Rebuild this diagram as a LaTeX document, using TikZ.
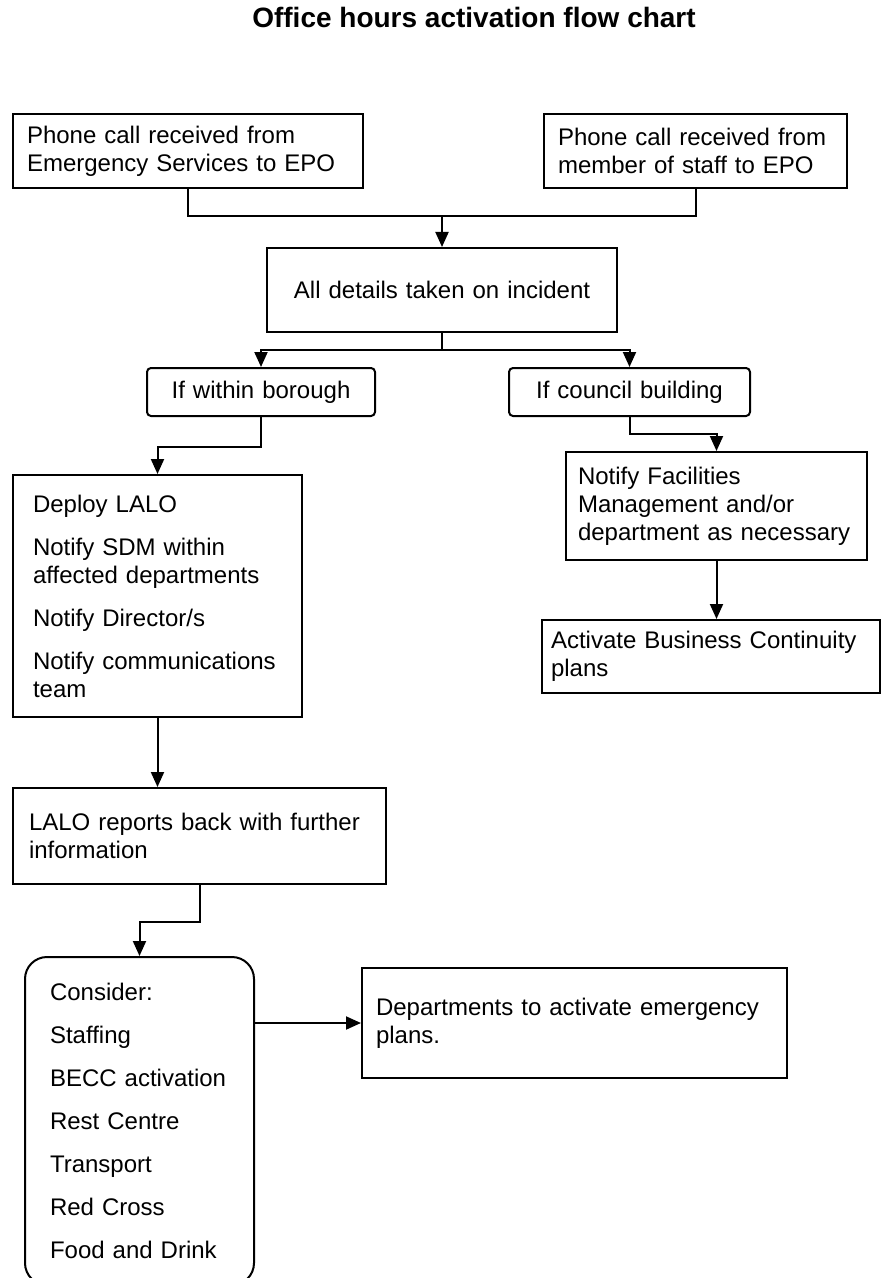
\documentclass[tikz,border=0pt]{standalone}
\usepackage{fontspec}
\setmainfont{Liberation Sans}
\usetikzlibrary{arrows.meta}
\hyphenpenalty=10000
\exhyphenpenalty=10000

\tikzset{
  box/.style = {draw, line width=1pt, anchor=north west, align=left,
    font=\fontsize{12}{14}\selectfont},
  flow/.style = {line width=1pt, -{Triangle[length=7.5pt,width=6.5pt]}},
}

\begin{document}
\begin{tikzpicture}[x=.5pt, y=-.5pt]
  \useasboundingbox (0,0) rectangle (880,1278);
  \node [anchor=base, font=\fontsize{14}{16}\bfseries\selectfont] (title) at (474,28) {Office hours activation flow chart};

  % top row
  \node [box, text width=161pt, inner xsep=7pt, minimum height=37pt] (callES) at (12,113)
    {Phone call received from\\Emergency Services to EPO};
  \node [box, text width=137.5pt, inner xsep=7pt, minimum height=37pt] (callStaff) at (543,113)
    {Phone call received from\\member of staff to EPO};
  \node [box, align=center, text width=161pt, inner xsep=7pt, minimum height=42pt] (details) at (266,247)
    {All details taken on incident};
  \node [box, align=center, rounded corners=2pt, text width=100pt, inner xsep=7pt, minimum height=24pt] (borough) at (146,367)
    {If within borough};
  \node [box, align=center, rounded corners=2pt, text width=106.5pt, inner xsep=7pt, minimum height=24pt] (council) at (508,367)
    {If council building};

  % left branch
  \node [box, text width=124.5pt, inner xsep=10pt, minimum height=121pt] (deploy) at (12,474)
    {Deploy LALO\\[7.5pt]Notify SDM within\\affected departments\\[7.5pt]Notify Director/s\\[7.5pt]Notify communications\\team};
  \node [box, text width=170.5pt, inner xsep=8pt, minimum height=48pt] (reports) at (12,787)
    {LALO reports back with further\\information};
  \node [box, rounded corners=11pt, text width=89.5pt, inner xsep=12.5pt, minimum height=164pt] (consider) at (24,956)
    {Consider:\\[7.5pt]Staffing\\[7.5pt]BECC activation\\[7.5pt]Rest Centre\\[7.5pt]Transport\\[7.5pt]Red Cross\\[7.5pt]Food and Drink};
  \node [box, text width=198.5pt, inner xsep=7pt, minimum height=55pt] (plans) at (361,967)
    {Departments to activate emergency\\plans.};

  % right branch
  \node [box, text width=138.5pt, inner xsep=6pt, minimum height=54pt] (facilities) at (565,451)
    {Notify Facilities\\Management and/or\\department as necessary};
  \node [box, text width=160pt, inner xsep=4.5pt, minimum height=36.5pt] (continuity) at (541,619)
    {Activate Business Continuity\\plans};

  % connectors
  \path (details.north) ++(0,-31) coordinate (join);
  \draw [line width=1pt] (callES.south) |- (join) -| (callStaff.south);
  \draw [flow] (join) -- (details.north);
  \draw [line width=1pt] (details.south) -- ++(0,17) coordinate (split);
  \draw [flow] (split) -| (borough.north);
  \draw [flow] (split) -| (council.north);
  \draw [flow] (borough.south) -- ++(0,30) -| (deploy.north);
  \draw [flow] (council.south) -- ++(0,17) -| (facilities.north);
  \draw [flow] (facilities.south) -- (facilities.south |- continuity.north);
  \draw [flow] (deploy.south) -- (deploy.south |- reports.north);
  \draw [flow] (reports.south) -- ++(0,37) -| (consider.north);
  \draw [flow] (consider.east |- plans.west) -- (plans.west);
\end{tikzpicture}
\end{document}
